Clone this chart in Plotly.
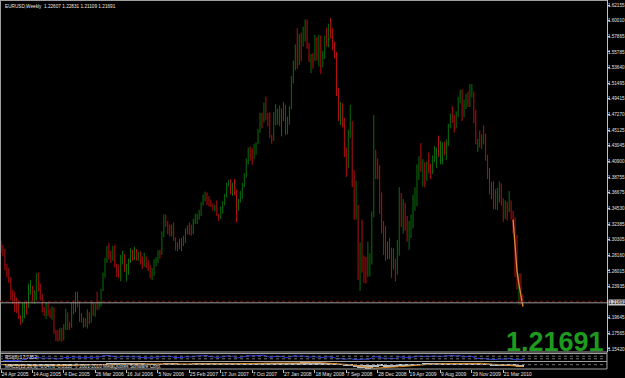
import plotly.graph_objects as go
import pandas as pd

# ---------------- data (weekly EURUSD, first bar = week of 24 Apr 2005) ----------------
week_open = [
    1.2960, 1.2920, 1.2840, 1.2640, 1.2590, 1.2470, 1.2290, 1.2280, 1.2100, 1.2090, 1.1970, 1.1920,
    1.2060, 1.2120, 1.2110, 1.2350, 1.2380, 1.2190, 1.2290, 1.2490, 1.2420, 1.2240, 1.2070, 1.2030,
    1.2150, 1.2060, 1.1990, 1.2090, 1.1770, 1.1730, 1.1690, 1.1790, 1.1710, 1.1820, 1.2000, 1.1860,
    # 2006
    1.1840, 1.2140, 1.2110, 1.2280, 1.2150, 1.1940, 1.1910, 1.1920, 1.1910, 1.2030, 1.1910, 1.2170,
    1.2030, 1.2120, 1.2100, 1.2130, 1.2340, 1.2520, 1.2760, 1.2870, 1.2820, 1.2750, 1.2910, 1.2680,
    1.2580, 1.2540, 1.2800, 1.2810, 1.2630, 1.2660, 1.2740, 1.2870, 1.2840, 1.2860, 1.2760, 1.2840,
    1.2730, 1.2690, 1.2790, 1.2680, 1.2660, 1.2520, 1.2580, 1.2720, 1.2760, 1.2860, 1.2840, 1.3100,
    1.3250, 1.3230, 1.3190, 1.3110,
    # 2007
    1.3200, 1.3020, 1.2930, 1.2950, 1.2930, 1.3000, 1.2990, 1.3160, 1.3200, 1.3140, 1.3120, 1.3270,
    1.3310, 1.3360, 1.3390, 1.3510, 1.3570, 1.3620, 1.3600, 1.3520, 1.3510, 1.3440, 1.3450, 1.3350,
    1.3330, 1.3450, 1.3540, 1.3620, 1.3790, 1.3810, 1.3700, 1.3790, 1.3650, 1.3440, 1.3540, 1.3640,
    1.3790, 1.3870, 1.4120, 1.4270, 1.4220, 1.4190, 1.4290, 1.4340, 1.4500, 1.4680, 1.4630, 1.4820,
    1.4680, 1.4650, 1.4430, 1.4390,
    # 2008
    1.4720, 1.4740, 1.4760, 1.4620, 1.4780, 1.4830, 1.4500, 1.4630, 1.4830, 1.5190, 1.5360, 1.5660,
    1.5430, 1.5780, 1.5750, 1.5810, 1.5820, 1.5640, 1.5470, 1.5520, 1.5490, 1.5760, 1.5540, 1.5780,
    1.5400, 1.5550, 1.5790, 1.5700, 1.5940, 1.5780, 1.5710, 1.5550, 1.5010, 1.4690, 1.4820, 1.4670,
    1.4260, 1.4220, 1.4480, 1.4600, 1.3790, 1.3440, 1.3480, 1.2500, 1.2750, 1.2710, 1.2590, 1.2580,
    1.2690, 1.2710, 1.3350, 1.4180, 1.3970,
    # 2009
    1.3950, 1.3430, 1.3220, 1.2850, 1.2810, 1.2950, 1.2860, 1.2660, 1.2680, 1.2660, 1.2910, 1.3570,
    1.3280, 1.3480, 1.3190, 1.3020, 1.3250, 1.3280, 1.3480, 1.3510, 1.4000, 1.4150, 1.3970, 1.4040,
    1.3980, 1.4030, 1.3970, 1.3960, 1.4120, 1.4240, 1.4260, 1.4180, 1.4190, 1.4330, 1.4290, 1.4350,
    1.4570, 1.4710, 1.4690, 1.4550, 1.4730, 1.4960, 1.5020, 1.4720, 1.4840, 1.4910, 1.4870, 1.4980,
    1.5020, 1.4620, 1.4340, 1.4370,
    # 2010
    1.4320, 1.4410, 1.4380, 1.4140, 1.3870, 1.3680, 1.3620, 1.3610, 1.3600, 1.3630, 1.3770, 1.3520,
    1.3410, 1.3480, 1.3420, 1.3500, 1.3390, 1.3290, 1.2750, 1.2357, 1.2566, 1.22607,
]
week_high = [
    1.3010, 1.2960, 1.2900, 1.2700, 1.2640, 1.2520, 1.2350, 1.2320, 1.2240, 1.2200, 1.2000, 1.2170,
    1.2170, 1.2190, 1.2430, 1.2480, 1.2400, 1.2340, 1.2570, 1.2580, 1.2430, 1.2290, 1.2110, 1.2180,
    1.2170, 1.2090, 1.2120, 1.2110, 1.1800, 1.1800, 1.1830, 1.1830, 1.1880, 1.2090, 1.2040, 1.1910,
    # 2006
    1.2180, 1.2200, 1.2320, 1.2320, 1.2180, 1.2030, 1.1970, 1.1960, 1.2080, 1.2040, 1.2200, 1.2180,
    1.2160, 1.2320, 1.2190, 1.2360, 1.2580, 1.2780, 1.2940, 1.2980, 1.2880, 1.2940, 1.2950, 1.2700,
    1.2690, 1.2820, 1.2880, 1.2830, 1.2700, 1.2770, 1.2910, 1.2890, 1.2930, 1.2900, 1.2860, 1.2870,
    1.2800, 1.2850, 1.2800, 1.2750, 1.2680, 1.2640, 1.2760, 1.2790, 1.2880, 1.2890, 1.3140, 1.3370,
    1.3370, 1.3280, 1.3230, 1.3230,
    # 2007
    1.3260, 1.3060, 1.2990, 1.3040, 1.3050, 1.3080, 1.3180, 1.3220, 1.3260, 1.3230, 1.3310, 1.3380,
    1.3380, 1.3430, 1.3540, 1.3640, 1.3680, 1.3670, 1.3620, 1.3570, 1.3520, 1.3500, 1.3560, 1.3380,
    1.3480, 1.3550, 1.3650, 1.3800, 1.3840, 1.3850, 1.3800, 1.3850, 1.3710, 1.3580, 1.3690, 1.3800,
    1.3930, 1.4130, 1.4280, 1.4290, 1.4270, 1.4330, 1.4350, 1.4530, 1.4750, 1.4750, 1.4890, 1.4970,
    1.4750, 1.4760, 1.4450, 1.4760,
    # 2008
    1.4870, 1.4810, 1.4850, 1.4810, 1.4900, 1.4860, 1.4700, 1.4840, 1.5250, 1.5460, 1.5680, 1.5900,
    1.5820, 1.5840, 1.5920, 1.6020, 1.6020, 1.5700, 1.5550, 1.5560, 1.5810, 1.5780, 1.5810, 1.5800,
    1.5590, 1.5800, 1.5910, 1.5960, 1.6040, 1.5900, 1.5720, 1.5580, 1.5090, 1.4900, 1.4880, 1.4680,
    1.4280, 1.4520, 1.4860, 1.4640, 1.3970, 1.3830, 1.3500, 1.2990, 1.3300, 1.2810, 1.2790, 1.3000,
    1.2840, 1.3410, 1.4720, 1.4250, 1.4130,
    # 2009
    1.4040, 1.3670, 1.3280, 1.3210, 1.3000, 1.3050, 1.2920, 1.2910, 1.2770, 1.3020, 1.3740, 1.3660,
    1.3580, 1.3530, 1.3350, 1.3280, 1.3370, 1.3640, 1.3740, 1.4050, 1.4160, 1.4340, 1.4120, 1.4080,
    1.4090, 1.4210, 1.4060, 1.4170, 1.4300, 1.4280, 1.4440, 1.4370, 1.4350, 1.4360, 1.4390, 1.4600,
    1.4740, 1.4840, 1.4720, 1.4770, 1.4970, 1.5060, 1.5070, 1.4930, 1.5010, 1.5040, 1.5140, 1.5140,
    1.5040, 1.4790, 1.4400, 1.4510,
    # 2010
    1.4460, 1.4580, 1.4470, 1.4180, 1.4000, 1.3810, 1.3820, 1.3710, 1.3730, 1.3820, 1.3790, 1.3590,
    1.3560, 1.3540, 1.3690, 1.3560, 1.3420, 1.3330, 1.3094, 1.2570, 1.2570, 1.22831,
]
week_low = [
    1.2850, 1.2800, 1.2610, 1.2510, 1.2440, 1.2200, 1.2150, 1.2040, 1.2030, 1.1950, 1.1870, 1.1900,
    1.1960, 1.2010, 1.2100, 1.2280, 1.2170, 1.2150, 1.2200, 1.2320, 1.2200, 1.2040, 1.1990, 1.1950,
    1.1990, 1.1960, 1.1940, 1.1750, 1.1650, 1.1640, 1.1650, 1.1640, 1.1660, 1.1800, 1.1800, 1.1800,
    # 2006
    1.1830, 1.2010, 1.2040, 1.2110, 1.1910, 1.1900, 1.1830, 1.1840, 1.1820, 1.1880, 1.1900, 1.1990,
    1.1980, 1.2070, 1.2080, 1.2120, 1.2330, 1.2510, 1.2710, 1.2760, 1.2710, 1.2740, 1.2650, 1.2520,
    1.2500, 1.2460, 1.2690, 1.2590, 1.2460, 1.2550, 1.2710, 1.2740, 1.2750, 1.2740, 1.2740, 1.2690,
    1.2630, 1.2660, 1.2640, 1.2600, 1.2500, 1.2480, 1.2530, 1.2660, 1.2710, 1.2770, 1.2820, 1.3060,
    1.3200, 1.3100, 1.3070, 1.3070,
    # 2007
    1.3010, 1.2880, 1.2870, 1.2900, 1.2870, 1.2940, 1.2980, 1.3100, 1.3090, 1.3080, 1.3100, 1.3240,
    1.3240, 1.3300, 1.3350, 1.3490, 1.3550, 1.3500, 1.3480, 1.3470, 1.3420, 1.3410, 1.3350, 1.3280,
    1.3310, 1.3380, 1.3490, 1.3600, 1.3750, 1.3640, 1.3620, 1.3630, 1.3260, 1.3420, 1.3530, 1.3580,
    1.3740, 1.3870, 1.4050, 1.4100, 1.4040, 1.4120, 1.4180, 1.4330, 1.4480, 1.4540, 1.4620, 1.4650,
    1.4570, 1.4410, 1.4330, 1.4370,
    # 2008
    1.4580, 1.4590, 1.4570, 1.4430, 1.4640, 1.4450, 1.4460, 1.4590, 1.4800, 1.5150, 1.5330, 1.5350,
    1.5400, 1.5450, 1.5650, 1.5720, 1.5620, 1.5440, 1.5290, 1.5350, 1.5450, 1.5460, 1.5380, 1.5280,
    1.5370, 1.5480, 1.5650, 1.5640, 1.5760, 1.5600, 1.5490, 1.4980, 1.4640, 1.4580, 1.4550, 1.4150,
    1.3880, 1.4000, 1.4410, 1.3740, 1.3300, 1.3300, 1.2480, 1.2330, 1.2580, 1.2440, 1.2430, 1.2520,
    1.2530, 1.2690, 1.3330, 1.3850, 1.3850,
    # 2009
    1.3380, 1.3110, 1.2820, 1.2740, 1.2760, 1.2760, 1.2510, 1.2620, 1.2460, 1.2550, 1.2810, 1.3200,
    1.3110, 1.3150, 1.3000, 1.2890, 1.3050, 1.3180, 1.3420, 1.3480, 1.3840, 1.3950, 1.3750, 1.3740,
    1.3830, 1.3930, 1.3850, 1.3920, 1.4080, 1.4000, 1.4150, 1.4050, 1.4050, 1.4170, 1.4110, 1.4300,
    1.4540, 1.4610, 1.4480, 1.4540, 1.4690, 1.4880, 1.4640, 1.4690, 1.4800, 1.4830, 1.4830, 1.4960,
    1.4610, 1.4320, 1.4220, 1.4280,
    # 2010
    1.4260, 1.4320, 1.4100, 1.3850, 1.3640, 1.3580, 1.3440, 1.3440, 1.3430, 1.3530, 1.3490, 1.3270,
    1.3310, 1.3290, 1.3400, 1.3300, 1.3110, 1.2520, 1.2350, 1.2143, 1.2146, 1.21109,
]
week_close = [
    1.2920, 1.2840, 1.2640, 1.2590, 1.2470, 1.2290, 1.2280, 1.2100, 1.2090, 1.1970, 1.1920, 1.2060,
    1.2120, 1.2110, 1.2350, 1.2380, 1.2190, 1.2290, 1.2490, 1.2420, 1.2240, 1.2070, 1.2030, 1.2150,
    1.2060, 1.1990, 1.2090, 1.1770, 1.1730, 1.1690, 1.1790, 1.1710, 1.1820, 1.2000, 1.1860, 1.1840,
    # 2006
    1.2140, 1.2110, 1.2280, 1.2150, 1.1940, 1.1910, 1.1920, 1.1910, 1.2030, 1.1910, 1.2170, 1.2030,
    1.2120, 1.2100, 1.2130, 1.2340, 1.2520, 1.2760, 1.2870, 1.2820, 1.2750, 1.2910, 1.2680, 1.2580,
    1.2540, 1.2800, 1.2810, 1.2630, 1.2660, 1.2740, 1.2870, 1.2840, 1.2860, 1.2760, 1.2840, 1.2730,
    1.2690, 1.2790, 1.2680, 1.2660, 1.2520, 1.2580, 1.2720, 1.2760, 1.2860, 1.2840, 1.3100, 1.3250,
    1.3230, 1.3190, 1.3110, 1.3200,
    # 2007
    1.3020, 1.2930, 1.2950, 1.2930, 1.3000, 1.2990, 1.3160, 1.3200, 1.3140, 1.3120, 1.3270, 1.3310,
    1.3360, 1.3390, 1.3510, 1.3570, 1.3620, 1.3600, 1.3520, 1.3510, 1.3440, 1.3450, 1.3350, 1.3330,
    1.3450, 1.3540, 1.3620, 1.3790, 1.3810, 1.3700, 1.3790, 1.3650, 1.3440, 1.3540, 1.3640, 1.3790,
    1.3870, 1.4120, 1.4270, 1.4220, 1.4190, 1.4290, 1.4340, 1.4500, 1.4680, 1.4630, 1.4820, 1.4680,
    1.4650, 1.4430, 1.4390, 1.4720,
    # 2008
    1.4740, 1.4760, 1.4620, 1.4780, 1.4830, 1.4500, 1.4630, 1.4830, 1.5190, 1.5360, 1.5660, 1.5430,
    1.5780, 1.5750, 1.5810, 1.5820, 1.5640, 1.5470, 1.5520, 1.5490, 1.5760, 1.5540, 1.5780, 1.5400,
    1.5550, 1.5790, 1.5700, 1.5940, 1.5780, 1.5710, 1.5550, 1.5010, 1.4690, 1.4820, 1.4670, 1.4260,
    1.4220, 1.4480, 1.4600, 1.3790, 1.3440, 1.3480, 1.2500, 1.2750, 1.2710, 1.2590, 1.2580, 1.2690,
    1.2710, 1.3350, 1.4180, 1.3970, 1.3950,
    # 2009
    1.3430, 1.3220, 1.2850, 1.2810, 1.2950, 1.2860, 1.2660, 1.2680, 1.2660, 1.2910, 1.3570, 1.3280,
    1.3480, 1.3190, 1.3020, 1.3250, 1.3280, 1.3480, 1.3510, 1.4000, 1.4150, 1.3970, 1.4040, 1.3980,
    1.4030, 1.3970, 1.3960, 1.4120, 1.4240, 1.4260, 1.4180, 1.4190, 1.4330, 1.4290, 1.4350, 1.4570,
    1.4710, 1.4690, 1.4550, 1.4730, 1.4960, 1.5020, 1.4720, 1.4840, 1.4910, 1.4870, 1.4980, 1.5020,
    1.4620, 1.4340, 1.4370, 1.4320,
    # 2010
    1.4410, 1.4380, 1.4140, 1.3870, 1.3680, 1.3620, 1.3610, 1.3600, 1.3630, 1.3770, 1.3520, 1.3410,
    1.3480, 1.3420, 1.3500, 1.3390, 1.3290, 1.2750, 1.2357, 1.2566, 1.2271, 1.21691,
]

tick_index = [0, 16, 32, 48, 64, 80, 96, 112, 128, 144, 160, 176, 192, 208, 224, 240, 256]
tick_labels = ["24 Apr 2005", "14 Aug 2005", "4 Dec 2005", "26 Mar 2006", "16 Jul 2006",
               "5 Nov 2006", "25 Feb 2007", "17 Jun 2007", "7 Oct 2007", "27 Jan 2008",
               "18 May 2008", "7 Sep 2008", "28 Dec 2008", "19 Apr 2009", "9 Aug 2009",
               "29 Nov 2009", "21 Mar 2010"]
price_ticks = [1.62155, 1.60010, 1.57865, 1.55785, 1.53640, 1.51495, 1.49415, 1.47270,
               1.45125, 1.43045, 1.40900, 1.38755, 1.36675, 1.34530, 1.32385, 1.30305,
               1.28160, 1.26015, 1.23935, 1.19645, 1.17565, 1.15420]
orange_index = [261, 262, 263, 264, 265, 266]
orange_value = [1.3300, 1.2950, 1.2600, 1.2420, 1.2260, 1.2120]
ask_level = 1.2190

idx = list(range(len(week_close)))

# ---------------- indicators from the closes ----------------
cl = pd.Series(week_close)
ema12 = cl.ewm(span=12, adjust=False).mean()
ema26 = cl.ewm(span=26, adjust=False).mean()
macd = ema12 - ema26
signal = macd.rolling(9, min_periods=1).mean()
delta = cl.diff()
up = delta.clip(lower=0).ewm(alpha=1 / 8, adjust=False).mean()
dn = (-delta.clip(upper=0)).ewm(alpha=1 / 8, adjust=False).mean()
rsi = 100 - 100 / (1 + up / dn)

# ---------------- geometry ----------------
W, H = 625, 378
AX_X = 607
px_per_bar = 1.962
x0 = -0.51
xr = [x0, x0 + AX_X / px_per_bar]

def py(y):  # pixel row -> paper
    return 1 - y / H

k = 736.0
p_top = 1.62155 + 5 / k
main_bot = 352
p_bot = 1.62155 - (main_bot - 5) / k

fig = go.Figure()

fig.add_trace(go.Ohlc(
    x=idx, open=week_open, high=week_high, low=week_low, close=week_close,
    increasing=dict(line=dict(color="#0a6e0a", width=1)),
    decreasing=dict(line=dict(color="#b41010", width=1)),
    tickwidth=0.05, xaxis="x", yaxis="y", showlegend=False, hoverinfo="skip"))

fig.add_trace(go.Scatter(x=orange_index, y=orange_value, mode="lines",
                         line=dict(color="#d8893a", width=1.3), xaxis="x", yaxis="y",
                         showlegend=False, hoverinfo="skip"))

# RSI window
fig.add_trace(go.Scatter(x=idx, y=rsi, mode="lines", line=dict(color="#2a3cff", width=1),
                         xaxis="x2", yaxis="y2", showlegend=False, hoverinfo="skip"))
# MACD window
fig.add_trace(go.Bar(x=idx, y=macd, marker=dict(color="#b8c0c8", line=dict(width=0)),
                     width=0.6, xaxis="x3", yaxis="y3", showlegend=False, hoverinfo="skip"))
fig.add_trace(go.Scatter(x=idx, y=signal, mode="lines", line=dict(color="#e08a20", width=1),
                         xaxis="x3", yaxis="y3", showlegend=False, hoverinfo="skip"))

dom_x = [0, AX_X / W]
common_x = dict(range=xr, showgrid=False, zeroline=False, showticklabels=False, ticks="",
                showline=False, fixedrange=True, automargin=False)

fig.update_layout(
    width=W, height=H, margin=dict(l=0, r=0, t=0, b=0, autoexpand=False),
    paper_bgcolor="black", plot_bgcolor="black",
    showlegend=False, bargap=0,
    xaxis=dict(domain=dom_x, anchor="y", rangeslider=dict(visible=False), **common_x),
    yaxis=dict(domain=[py(main_bot), 1], range=[p_bot, p_top], side="right", anchor="free",
               position=AX_X / W, showgrid=False, zeroline=False, showline=True, automargin=False,
               linecolor="#c0c0c0", linewidth=1, ticks="outside", ticklen=2, tickcolor="#c0c0c0",
               tickvals=price_ticks, ticktext=[f"{v:.5f}" for v in price_ticks],
               tickfont=dict(family="Liberation Sans", size=4.6, color="#e0e0e0")),
    xaxis2=dict(domain=dom_x, anchor="y2", **common_x),
    yaxis2=dict(domain=[py(361), py(354)], range=[-5, 105], showgrid=False, zeroline=False,
                showticklabels=False, fixedrange=True, automargin=False),
    xaxis3=dict(domain=dom_x, anchor="y3", range=xr, showgrid=False, zeroline=False,
                automargin=False, tickangle=0,
                showline=False, ticks="outside", ticklen=3, tickcolor="#c0c0c0",
                tickvals=tick_index, ticktext=tick_labels, ticklabelposition="outside right",
                tickfont=dict(family="Liberation Sans", size=5, color="#e0e0e0")),
    yaxis3=dict(domain=[py(369), py(362)],
                range=[float(macd.min()) * 1.1, float(macd.max()) * 1.1], automargin=False,
                showgrid=False, zeroline=False, showticklabels=False, fixedrange=True),
)
try:
    fig.update_layout(yaxis=dict(ticklabelstandoff=-3))
except Exception:
    pass

shapes = []
line_c = "#a0a0a0"
# window frames
for yy in [0.5, main_bot, 353.5, 361.5, 369]:
    shapes.append(dict(type="line", xref="paper", yref="paper", x0=0, x1=AX_X / W,
                       y0=py(yy), y1=py(yy), line=dict(color=line_c, width=1)))
shapes.append(dict(type="line", xref="paper", yref="paper", x0=0.5 / W, x1=0.5 / W,
                   y0=py(369), y1=1, line=dict(color=line_c, width=1)))
shapes.append(dict(type="line", xref="paper", yref="paper", x0=AX_X / W, x1=AX_X / W,
                   y0=py(369), y1=py(main_bot), line=dict(color=line_c, width=1)))
# bid / ask lines
shapes.append(dict(type="line", xref="paper", yref="y", x0=0, x1=AX_X / W,
                   y0=week_close[-1], y1=week_close[-1], line=dict(color="#9a9a9a", width=1)))
shapes.append(dict(type="line", xref="paper", yref="y", x0=0, x1=AX_X / W,
                   y0=ask_level, y1=ask_level, line=dict(color="#6a1010", width=1, dash="dot")))
# RSI / MACD levels
for lv in [30, 70]:
    shapes.append(dict(type="line", xref="paper", yref="y2", x0=0, x1=AX_X / W, y0=lv, y1=lv,
                       line=dict(color="#707070", width=1, dash="dot")))
shapes.append(dict(type="line", xref="paper", yref="y3", x0=0, x1=AX_X / W, y0=0, y1=0,
                   line=dict(color="#707070", width=1, dash="dot")))
fig.update_layout(shapes=shapes)

ann = []
ann.append(dict(x=3 / W, y=py(2), xref="paper", yref="paper", xanchor="left", yanchor="top",
                showarrow=False, text="EURUSD,Weekly  1.22607 1.22831 1.21109 1.21691",
                font=dict(family="Liberation Sans", size=4.7, color="#e8e8e8")))
ann.append(dict(x=606 / W, y=py(342), xref="paper", yref="paper", xanchor="right",
                yanchor="middle", showarrow=False, text="<b>%.5f</b>" % week_close[-1],
                font=dict(family="Liberation Sans", size=27, color="#1e9a1e")))
ann.append(dict(x=AX_X / W + 0.002, y=week_close[-1], xref="paper", yref="y", xanchor="left",
                yanchor="middle", showarrow=False, text="%.5f" % week_close[-1],
                bgcolor="#c8c8c8", borderpad=0,
                font=dict(family="Liberation Sans", size=4.6, color="#000000")))
ann.append(dict(x=3 / W, y=py(357.5), xref="paper", yref="paper", xanchor="left",
                yanchor="middle", showarrow=False, text="RSI(8) %.4f" % float(rsi.iloc[-1]),
                font=dict(family="Liberation Sans", size=4.7, color="#e0e0e0")))
ann.append(dict(x=3 / W, y=py(365.5), xref="paper", yref="paper", xanchor="left",
                yanchor="middle", showarrow=False,
                text="MACD(12,26,9) %.4f %.4f  © 2001-2010 MetaQuotes Software Corp." %
                     (float(macd.iloc[-1]), float(signal.iloc[-1])),
                font=dict(family="Liberation Sans", size=4.7, color="#e0e0e0")))
fig.update_layout(annotations=ann)

fig.write_html("out.html")
